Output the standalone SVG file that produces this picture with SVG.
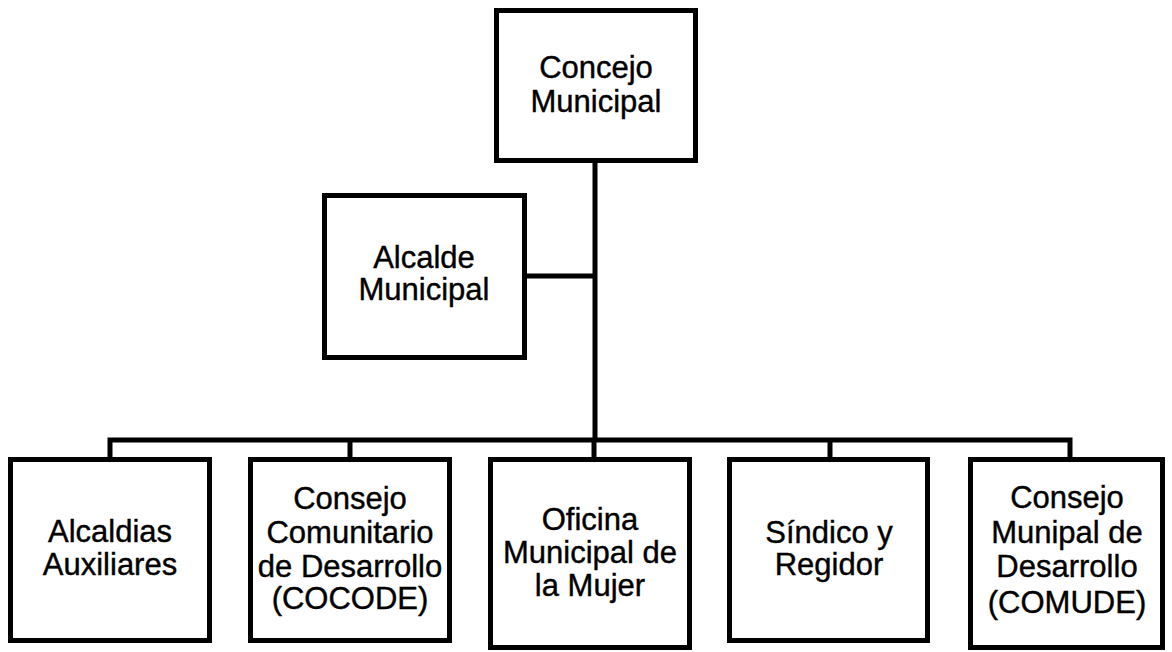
<svg xmlns="http://www.w3.org/2000/svg" width="1172" height="652" viewBox="0 0 1172 652">
<style>
.box{fill:#fff;stroke:#000;stroke-width:5}
.ln{fill:none;stroke:#000;stroke-width:5;stroke-linecap:square}
text{font-family:"Liberation Sans",Arial,sans-serif;font-size:31px;fill:#000;stroke:#000;stroke-width:0.4;text-anchor:middle}
</style>
<rect width="1172" height="652" fill="#fff"/>
<g id="connectors">
<path class="ln" d="M595 163V440M527 276H595M110 440H1070M110 440V457M350 440V457M830 440V457M1070 440V457M594 440V457"/>
</g>
<g id="concejo">
<rect class="box" x="496.5" y="10.5" width="199" height="150"/>
<text x="596" y="78">Concejo</text>
<text x="596" y="112">Municipal</text>
</g>
<g id="alcalde">
<rect class="box" x="324.5" y="195.5" width="200" height="162"/>
<text x="424" y="268">Alcalde</text>
<text x="424" y="300">Municipal</text>
</g>
<g id="alcaldias">
<rect class="box" x="10.5" y="459.5" width="199" height="181"/>
<text x="110" y="542">Alcaldias</text>
<text x="110" y="575">Auxiliares</text>
</g>
<g id="cocode">
<rect class="box" x="250.5" y="459.5" width="199" height="181"/>
<text x="350" y="509">Consejo</text>
<text x="350" y="543">Comunitario</text>
<text x="350" y="577">de Desarrollo</text>
<text x="350" y="609">(COCODE)</text>
</g>
<g id="oficina">
<rect class="box" x="490.5" y="459.5" width="199" height="188"/>
<text x="590" y="530">Oficina</text>
<text x="590" y="563">Municipal de</text>
<text x="590" y="596">la Mujer</text>
</g>
<g id="sindico">
<rect class="box" x="729.5" y="459.5" width="198" height="181"/>
<text x="829" y="543">Síndico y</text>
<text x="829" y="575">Regidor</text>
</g>
<g id="comude">
<rect class="box" x="970.5" y="459.5" width="192" height="188"/>
<text x="1067" y="508">Consejo</text>
<text x="1067" y="543">Munipal de</text>
<text x="1067" y="577">Desarrollo</text>
<text x="1067" y="613">(COMUDE)</text>
</g>
</svg>
